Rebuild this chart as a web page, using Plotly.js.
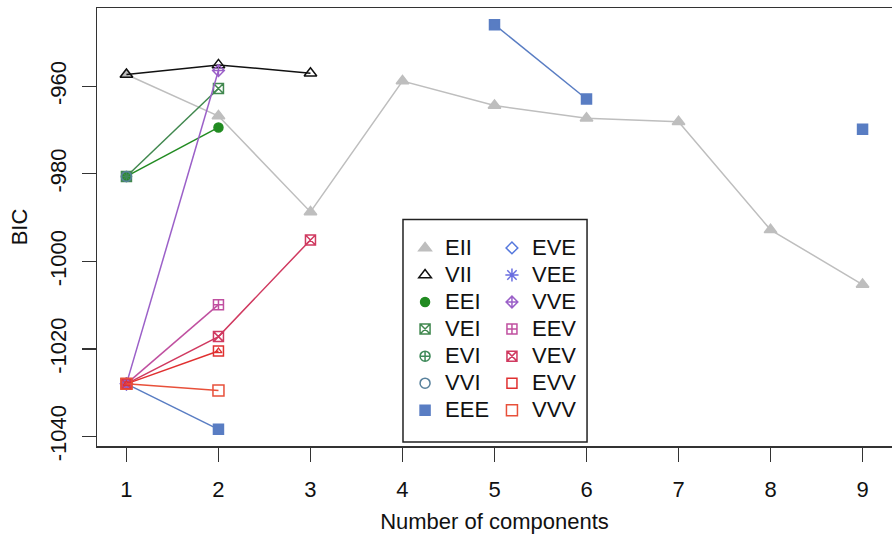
<!DOCTYPE html>
<html>
<head>
<meta charset="utf-8">
<script src="https://cdn.plot.ly/plotly-3.0.1.min.js"></script>
<style>
  html, body { margin: 0; padding: 0; background: #ffffff; }
  #chart { width: 892px; height: 540px; }
</style>
</head>
<body>
<div id="chart"></div>
<script>
// Number of mixture components
const components = [1, 2, 3, 4, 5, 6, 7, 8, 9];

// BIC per covariance model (null = not estimated)
const EII = [-957.3, -966.8, -988.7, -958.8, -964.4, -967.3, -968.1, -992.8, -1005.3];
const VII = [-957.3, -955.1, -957.0, null, null, null, null, null, null];
const EEI = [-980.6, -969.4, null, null, null, null, null, null, null];
const VEI = [-980.6, -960.5, null, null, null, null, null, null, null];
const EVI = [-980.6, null, null, null, null, null, null, null, null];
const VVI = [-980.6, null, null, null, null, null, null, null, null];
const EEE = [-1028.0, -1038.4, null, null, -945.9, -962.9, null, null, -969.8];
const EVE = [-1028.0, null, null, null, null, null, null, null, null];
const VEE = [-1028.0, null, null, null, null, null, null, null, null];
const VVE = [-1028.0, -956.4, null, null, null, null, null, null, null];
const EEV = [-1028.0, -1009.9, null, null, null, null, null, null, null];
const VEV = [-1028.0, -1017.2, -995.1, null, null, null, null, null, null];
const EVV = [-1028.0, -1020.5, null, null, null, null, null, null, null];
const VVV = [-1028.0, -1029.5, null, null, null, null, null, null, null];

const yTicks = [-1040, -1020, -1000, -980, -960];

const FONT = 'Arial, "Liberation Sans", sans-serif';
const TXT = '#111111';

// name, values, colour, symbol, size, legend column
const models = [
  ['EII', EII, '#bebebe', 'triangle-up', 11, 'legend'],
  ['VII', VII, '#111111', 'triangle-up-open', 11, 'legend'],
  ['EEI', EEI, '#218b21', 'circle', 9, 'legend'],
  ['VEI', VEI, '#41884f', 'square-x-open', 10, 'legend'],
  ['EVI', EVI, '#3f8a5a', 'circle-cross-open', 10, 'legend'],
  ['VVI', VVI, '#58819c', 'circle-open', 10, 'legend'],
  ['EEE', EEE, '#597dc3', 'square', 10, 'legend'],
  ['EVE', EVE, '#5578dd', 'diamond-open', 9, 'legend2'],
  ['VEE', VEE, '#6a6ee0', 'asterisk-open', 11, 'legend2'],
  ['VVE', VVE, '#9b60c8', 'diamond-cross-open', 9, 'legend2'],
  ['EEV', EEV, '#c050a0', 'square-cross-open', 10, 'legend2'],
  ['VEV', VEV, '#d03a60', 'square-x-open', 10, 'legend2'],
  ['EVV', EVV, '#e03030', 'square-open', 10, 'legend2'],
  ['VVV', VVV, '#e8503a', 'square-open', 11, 'legend2']
];

const traces = [];
models.forEach(([name, vals, color, symbol, size, leg]) => {
  // connecting line
  traces.push({
    type: 'scatter', mode: 'lines', x: components, y: vals,
    showlegend: false, hoverinfo: 'skip', connectgaps: false,
    line: { color: color, width: 1.5 }
  });
  // points (legend key shows the symbol only)
  traces.push({
    type: 'scatter', mode: 'markers', x: components, y: vals,
    name: '<span style="font-size:22px">' + name + '</span>',
    legend: leg,
    marker: { color: color, symbol: symbol, size: size, line: { color: color, width: 1.5 } },
    cliponaxis: false
  });
  if (name === 'EVV') {
    // small triangle inside the EVV squares
    traces.push({
      type: 'scatter', mode: 'markers', x: components, y: vals,
      showlegend: false, hoverinfo: 'skip',
      marker: { color: color, symbol: 'triangle-up-open', size: 6, line: { color: color, width: 1.3 } }
    });
  }
});

const legendCommon = {
  font: { family: FONT, size: 18.5, color: TXT },
  bgcolor: 'rgba(0,0,0,0)',
  borderwidth: 0,
  tracegroupgap: 0,
  itemsizing: 'trace',
  xanchor: 'left',
  yanchor: 'top',
  y: 0.4945
};

const axisFont = { family: FONT, size: 22, color: TXT };

const layout = {
  width: 892,
  height: 540,
  margin: { l: 97, r: 0, t: 8, b: 94 },
  paper_bgcolor: '#ffffff',
  plot_bgcolor: '#ffffff',
  font: { family: FONT, size: 22, color: TXT },
  showlegend: true,
  legend: Object.assign({}, legendCommon, { x: 0.3875 }),
  legend2: Object.assign({}, legendCommon, { x: 0.4968 }),
  xaxis: {
    range: [0.68, 9.32],
    tickvals: components,
    ticktext: components.map(String),
    ticks: 'outside',
    ticklen: 14,
    tickwidth: 1.3,
    tickcolor: '#333333',
    ticklabelstandoff: 9,
    showline: true,
    linecolor: '#333333',
    linewidth: 1.5,
    mirror: true,
    showgrid: false,
    zeroline: false,
    tickfont: axisFont,
    title: { text: 'Number of components', font: axisFont, standoff: 12 }
  },
  yaxis: {
    range: [-1042.2, -942.1],
    tickvals: yTicks,
    ticktext: yTicks.map(String),
    tickangle: -90,
    ticks: 'outside',
    ticklen: 14,
    tickwidth: 1.3,
    tickcolor: '#333333',
    ticklabelstandoff: 7,
    showline: true,
    linecolor: '#333333',
    linewidth: 1.5,
    mirror: false,
    showgrid: false,
    zeroline: false,
    tickfont: axisFont,
    title: { text: 'BIC', font: axisFont, standoff: 12 }
  },
  shapes: [{
    type: 'rect', xref: 'paper', yref: 'paper',
    x0: 0.3849, x1: 0.6164, y0: 0.0091, y1: 0.517,
    line: { color: '#222222', width: 1.5 },
    fillcolor: 'rgba(0,0,0,0)'
  }]
};

Plotly.newPlot('chart', traces, layout, { displayModeBar: false, staticPlot: true });
</script>
</body>
</html>
